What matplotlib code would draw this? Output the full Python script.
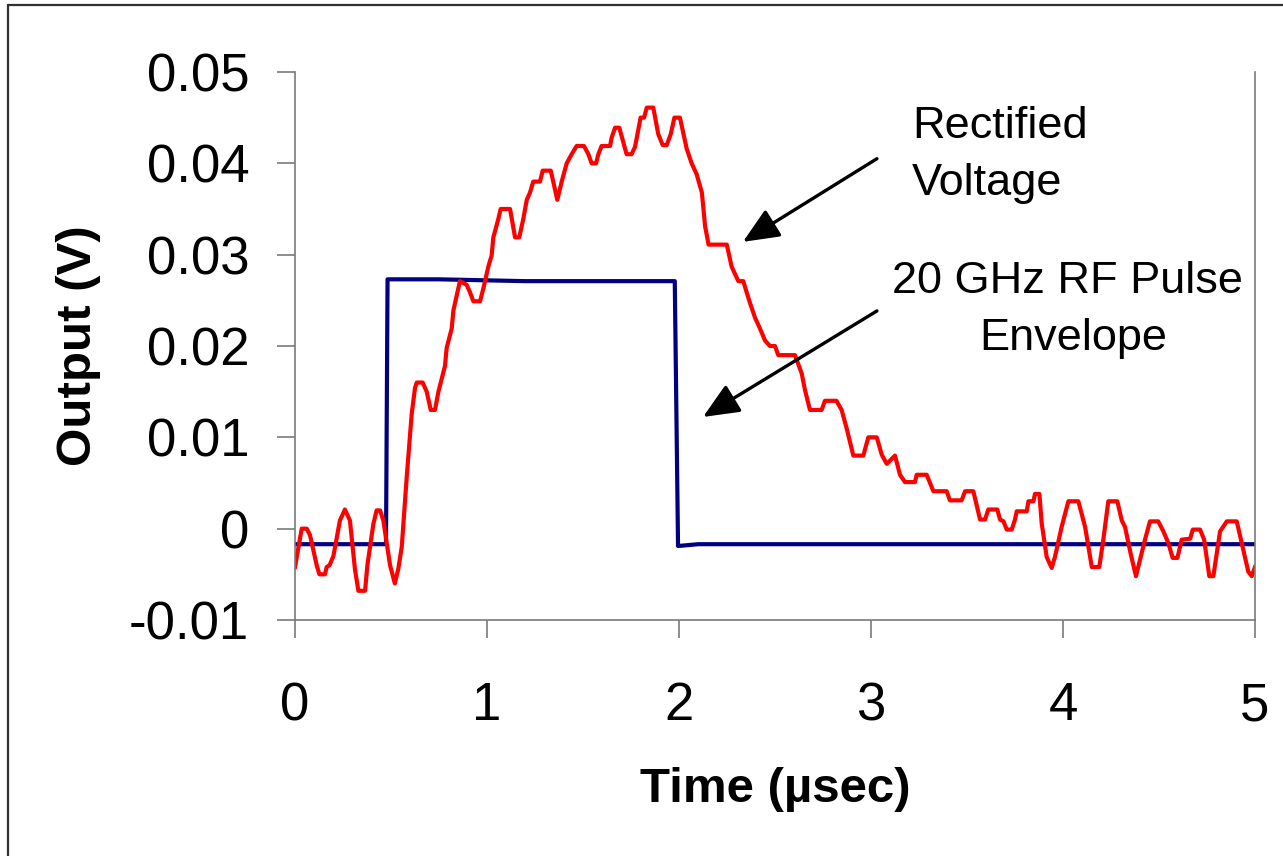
import matplotlib
matplotlib.use("Agg")
import matplotlib.pyplot as plt
from matplotlib.patches import Rectangle

plt.rcParams["font.family"] = ["Liberation Sans", "DejaVu Sans"]

# Rectified detector output (V) versus time (microseconds)
rect_t = [
    0.000, 0.035, 0.061, 0.078, 0.113, 0.127, 0.156, 0.165, 0.180, 0.200,
    0.234, 0.260, 0.286, 0.312, 0.330, 0.365, 0.377, 0.408, 0.425, 0.443,
    0.460, 0.495, 0.520, 0.538, 0.556, 0.582, 0.608, 0.625, 0.634, 0.665,
    0.686, 0.707, 0.729, 0.747, 0.781, 0.790, 0.816, 0.825, 0.859, 0.894,
    0.911, 0.929, 0.964, 0.981, 1.007, 1.024, 1.033, 1.059, 1.071, 1.120,
    1.146, 1.168, 1.189, 1.207, 1.224, 1.241, 1.276, 1.290, 1.332, 1.345,
    1.366, 1.389, 1.415, 1.441, 1.467, 1.505, 1.528, 1.545, 1.568, 1.580,
    1.597, 1.641, 1.649, 1.667, 1.689, 1.701, 1.727, 1.753, 1.771, 1.800,
    1.818, 1.832, 1.866, 1.892, 1.915, 1.936, 1.957, 1.976, 2.005, 2.040,
    2.066, 2.092, 2.119, 2.136, 2.154, 2.249, 2.274, 2.309, 2.335, 2.352,
    2.370, 2.396, 2.422, 2.448, 2.474, 2.500, 2.517, 2.604, 2.639, 2.656,
    2.682, 2.743, 2.760, 2.820, 2.847, 2.873, 2.908, 2.960, 2.986, 3.030,
    3.056, 3.082, 3.125, 3.151, 3.177, 3.229, 3.238, 3.290, 3.325, 3.394,
    3.411, 3.472, 3.490, 3.533, 3.568, 3.594, 3.611, 3.658, 3.672, 3.690,
    3.707, 3.733, 3.750, 3.759, 3.811, 3.820, 3.846, 3.854, 3.877, 3.889,
    3.915, 3.941, 3.958, 3.993, 4.028, 4.080, 4.115, 4.150, 4.189, 4.210,
    4.236, 4.283, 4.306, 4.323, 4.352, 4.380, 4.401, 4.427, 4.453, 4.496,
    4.523, 4.549, 4.571, 4.596, 4.618, 4.662, 4.676, 4.714, 4.735, 4.762,
    4.783, 4.818, 4.853, 4.905, 4.965, 4.983, 5.000,
]
rect_v = [
    -0.0042, 0.0000, 0.0000, -0.0007, -0.0040, -0.0050, -0.0050, -0.0042, -0.0040, -0.0030,
    0.0009, 0.0021, 0.0009, -0.0044, -0.0068, -0.0068, -0.0040, 0.0005, 0.0020, 0.0020,
    0.0009, -0.0040, -0.0060, -0.0044, -0.0020, 0.0057, 0.0126, 0.0154, 0.0160, 0.0160,
    0.0150, 0.0130, 0.0130, 0.0150, 0.0178, 0.0198, 0.0219, 0.0239, 0.0271, 0.0267,
    0.0259, 0.0249, 0.0249, 0.0263, 0.0287, 0.0299, 0.0319, 0.0339, 0.0350, 0.0350,
    0.0319, 0.0319, 0.0339, 0.0360, 0.0368, 0.0380, 0.0380, 0.0392, 0.0392, 0.0380,
    0.0360, 0.0380, 0.0400, 0.0410, 0.0419, 0.0419, 0.0410, 0.0400, 0.0400, 0.0410,
    0.0419, 0.0419, 0.0428, 0.0439, 0.0439, 0.0430, 0.0410, 0.0410, 0.0418, 0.0450,
    0.0450, 0.0461, 0.0461, 0.0432, 0.0420, 0.0420, 0.0432, 0.0450, 0.0450, 0.0416,
    0.0400, 0.0388, 0.0368, 0.0331, 0.0311, 0.0311, 0.0287, 0.0271, 0.0271, 0.0259,
    0.0247, 0.0231, 0.0219, 0.0206, 0.0200, 0.0200, 0.0190, 0.0190, 0.0170, 0.0152,
    0.0130, 0.0130, 0.0140, 0.0140, 0.0130, 0.0110, 0.0080, 0.0080, 0.0100, 0.0100,
    0.0081, 0.0071, 0.0080, 0.0059, 0.0051, 0.0051, 0.0059, 0.0059, 0.0041, 0.0041,
    0.0031, 0.0031, 0.0041, 0.0041, 0.0010, 0.0010, 0.0021, 0.0021, 0.0010, 0.0008,
    -0.0001, -0.0001, 0.0010, 0.0019, 0.0019, 0.0030, 0.0030, 0.0038, 0.0038, 0.0006,
    -0.0031, -0.0043, -0.0031, 0.0002, 0.0030, 0.0030, 0.0002, -0.0042, -0.0042, -0.0012,
    0.0030, 0.0030, 0.0009, 0.0002, -0.0027, -0.0052, -0.0034, -0.0012, 0.0008, 0.0008,
    -0.0003, -0.0016, -0.0032, -0.0032, -0.0012, -0.0011, -0.0001, -0.0001, -0.0012, -0.0052,
    -0.0052, -0.0003, 0.0008, 0.0008, -0.0047, -0.0052, -0.0042,
]

# 20 GHz RF pulse envelope
pulse_t = [0.0, 0.474, 0.482, 0.75, 1.20, 1.978, 1.995, 2.10, 5.0]
pulse_v = [-0.0017, -0.0017, 0.0273, 0.0273, 0.0271, 0.0271, -0.0019, -0.0017, -0.0017]

x_ticks = [0, 1, 2, 3, 4, 5]
y_ticks = [-0.01, 0.0, 0.01, 0.02, 0.03, 0.04, 0.05]
y_tick_labels = ["-0.01", "0", "0.01", "0.02", "0.03", "0.04", "0.05"]

W, H = 1283, 856
fig = plt.figure(figsize=(W / 100, H / 100), dpi=100)
fig.patch.set_facecolor("white")

# outer chart frame
fig.patches.append(Rectangle((8 / W, -0.2), 1.5, 1.2 - 5 / H, transform=fig.transFigure,
                             fill=False, edgecolor="#303030", linewidth=1.6))

ax = fig.add_axes([295 / W, 1 - 620 / H, 960 / W, 548 / H])
ax.plot(pulse_t, pulse_v, color="#000080", linewidth=3.0, solid_joinstyle="round")
ax.plot(rect_t, rect_v, color="#ff0000", linewidth=3.0, solid_joinstyle="round")

ax.set_xlim(0, 5)
ax.set_ylim(-0.01, 0.05)
ax.set_xticks(x_ticks)
ax.set_xticklabels([str(v) for v in x_ticks])
ax.set_yticks(y_ticks)
ax.set_yticklabels(y_tick_labels)

spine_color = "#7a7a7a"
for side in ("left", "bottom", "right"):
    ax.spines[side].set_color(spine_color)
    ax.spines[side].set_linewidth(1.2)
ax.spines["top"].set_visible(False)

ax.tick_params(axis="both", direction="out", length=13, width=1.2, color=spine_color,
               labelsize=38, labelcolor="black")
ax.tick_params(axis="y", pad=20)
ax.tick_params(axis="x", pad=31)

ax.set_xlabel("Time (\u00b5sec)", fontsize=35.5, fontweight="bold", va="center")
ax.set_ylabel("Output (V)", fontsize=35.5, fontweight="bold", va="center")
ax.xaxis.set_label_coords(0.5, -0.31)
ax.yaxis.set_label_coords(-0.226, 0.5)

# callout labels
ax.text(3.214, 0.04278, "Rectified", fontsize=32.5, ha="left", va="baseline")
ax.text(3.214, 0.03652, "Voltage", fontsize=32.5, ha="left", va="baseline")
ax.text(4.021, 0.02579, "20 GHz RF Pulse", fontsize=32.5, ha="center", va="baseline")
ax.text(4.052, 0.01957, "Envelope", fontsize=32.5, ha="center", va="baseline")

arrow_kw = dict(arrowstyle="-|>,head_length=0.55,head_width=0.24", color="black",
                lw=2.4, shrinkA=0, shrinkB=0, mutation_scale=40)
ax.annotate("", xy=(2.333, 0.03140), xytext=(3.031, 0.04051), arrowprops=arrow_kw)
ax.annotate("", xy=(2.125, 0.01223), xytext=(3.031, 0.02384), arrowprops=arrow_kw)

fig.savefig("out.png", dpi=100)
